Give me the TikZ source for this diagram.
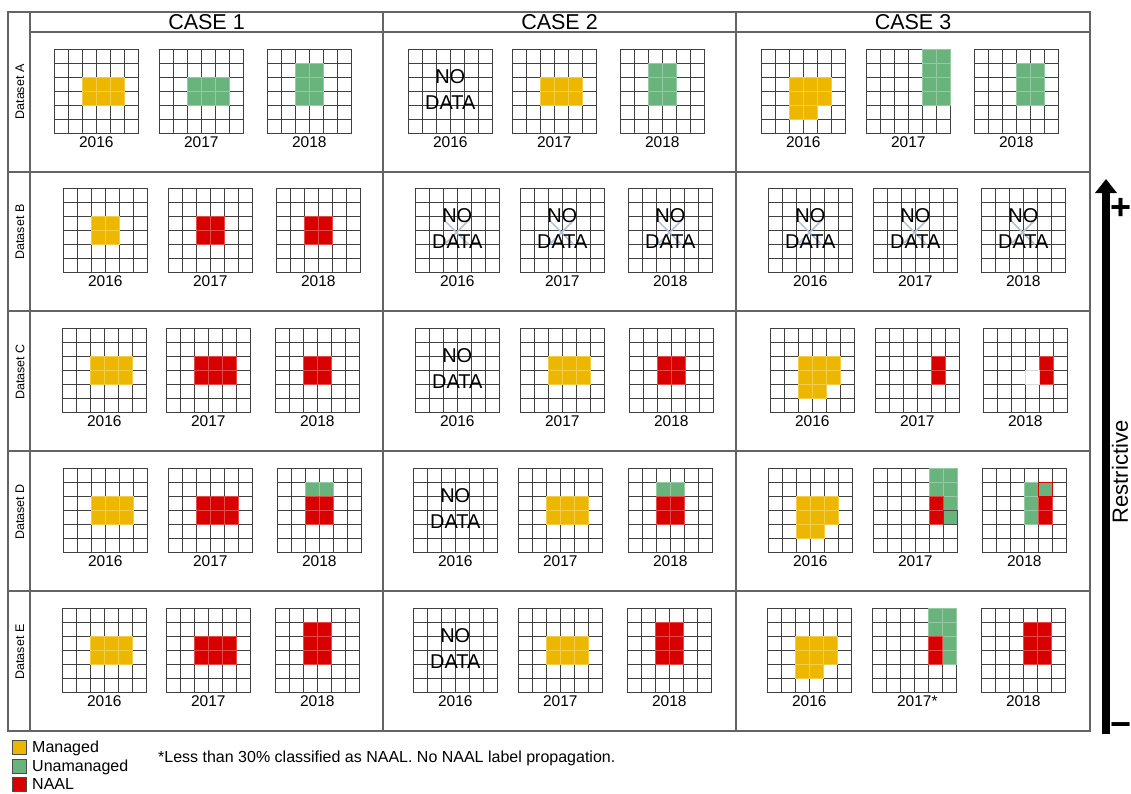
\documentclass[tikz,border=0pt]{standalone}
\usepackage{fontspec}
\setmainfont{Liberation Sans}
\usetikzlibrary{arrows.meta}
\definecolor{managed}{RGB}{237,183,0}
\definecolor{unmanaged}{RGB}{105,179,124}
\definecolor{naal}{RGB}{217,0,0}
\definecolor{framecol}{RGB}{100,100,100}
\definecolor{xblue}{RGB}{176,192,214}

\tikzset{
  gridline/.style={draw=black!75, line width=0.9pt},
  tableline/.style={draw=framecol, line width=1.2pt},
  yearlabel/.style={font=\fontsize{15.5}{18}\selectfont, anchor=base, inner sep=0pt},
  nodatatxt/.style={font=\fontsize{20}{26}\selectfont, align=center, inner sep=0pt},
  xline/.style={draw=xblue, line width=1.5pt},
  header/.style={font=\fontsize{21.5}{24}\selectfont, anchor=base, inner sep=0pt},
  dslabel/.style={font=\fontsize{12.5}{14}\selectfont, rotate=90, inner sep=0pt},
  legbox/.style={draw=black!70, line width=0.6pt},
  legtext/.style={font=\fontsize{16}{18}\selectfont, anchor=base west, inner sep=0pt},
  signtxt/.style={font=\fontsize{36}{36}\selectfont\bfseries, anchor=base, inner sep=0pt}
}

% name, gx, gy, label
\newcommand\gridsix[4]{%
  \foreach \ii in {0,...,6}{%
    \draw[gridline] ({#2+\ii*14.1},#3) -- ++(0,84.6);
    \draw[gridline] (#2,{#3+\ii*14.1}) -- ++(84.6,0);
  }
  \node[yearlabel] (#1) at ({#2+42.3},{#3+98}) {#4};
}
% gx, gy, colour, cells
\newcommand\fc[4]{%
  \foreach \ci/\ri in {#4}{%
    \path[fill=#3, draw=#3!70!white, line width=0.5pt] ({#1+\ci*14.1},{#2+\ri*14.1}) rectangle ++(14.1,14.1);
  }
}
% gx, gy
\newcommand\xmark[2]{%
  \draw[xline] ({#1+2.1*14.1},{#2+2.3*14.1}) -- ({#1+3.8*14.1},{#2+4*14.1});
  \draw[xline] ({#1+3.8*14.1},{#2+2.3*14.1}) -- ({#1+2.1*14.1},{#2+4*14.1});
}
% name, gx, gy
\newcommand\nodata[3]{%
  \node[nodatatxt] (#1) at ({#2+42.3},{#3+41}) {NO\\DATA};
}

\begin{document}
\begin{tikzpicture}[x=1pt, y=-1pt]
\useasboundingbox (0,0) rectangle (1131,793);

% ---------- table frame ----------
\draw[tableline] (8,12) rectangle (1090,731);
\draw[tableline] (30,12) -- (30,731);
\draw[tableline] (30,32) -- (1090,32);
\foreach \yy in {172,311,451,591}{\draw[tableline] (8,\yy) -- (1090,\yy);}
\foreach \xx in {383,736}{\draw[tableline] (\xx,12) -- (\xx,731);}

\node[header] (h1) at (206.5,29) {CASE 1};
\node[header] (h2) at (559.5,29) {CASE 2};
\node[header] (h3) at (913,29) {CASE 3};

\node[dslabel] (dA) at (20,92) {Dataset A};
\node[dslabel] (dB) at (20,232) {Dataset B};
\node[dslabel] (dC) at (20,372) {Dataset C};
\node[dslabel] (dD) at (20,512) {Dataset D};
\node[dslabel] (dE) at (20,652) {Dataset E};

% ---------- CASE 1 ----------
\gridsix{c1A1}{54}{49}{2016}  \fc{54}{49}{managed}{2/2,3/2,4/2,2/3,3/3,4/3}
\gridsix{c1A2}{159}{49}{2017} \fc{159}{49}{unmanaged}{2/2,3/2,4/2,2/3,3/3,4/3}
\gridsix{c1A3}{267}{49}{2018} \fc{267}{49}{unmanaged}{2/1,3/1,2/2,3/2,2/3,3/3}

\gridsix{c1B1}{63}{188}{2016}  \fc{63}{188}{managed}{2/2,3/2,2/3,3/3}
\gridsix{c1B2}{168}{188}{2017} \fc{168}{188}{naal}{2/2,3/2,2/3,3/3}
\gridsix{c1B3}{276}{188}{2018} \fc{276}{188}{naal}{2/2,3/2,2/3,3/3}

\gridsix{c1C1}{62}{328}{2016}  \fc{62}{328}{managed}{2/2,3/2,4/2,2/3,3/3,4/3}
\gridsix{c1C2}{166}{328}{2017} \fc{166}{328}{naal}{2/2,3/2,4/2,2/3,3/3,4/3}
\gridsix{c1C3}{275}{328}{2018} \fc{275}{328}{naal}{2/2,3/2,2/3,3/3}

\gridsix{c1D1}{63}{468}{2016}  \fc{63}{468}{managed}{2/2,3/2,4/2,2/3,3/3,4/3}
\gridsix{c1D2}{168}{468}{2017} \fc{168}{468}{naal}{2/2,3/2,4/2,2/3,3/3,4/3}
\gridsix{c1D3}{277}{468}{2018} \fc{277}{468}{unmanaged}{2/1,3/1} \fc{277}{468}{naal}{2/2,3/2,2/3,3/3}

\gridsix{c1E1}{62}{608}{2016}  \fc{62}{608}{managed}{2/2,3/2,4/2,2/3,3/3,4/3}
\gridsix{c1E2}{166}{608}{2017} \fc{166}{608}{naal}{2/2,3/2,4/2,2/3,3/3,4/3}
\gridsix{c1E3}{275}{608}{2018} \fc{275}{608}{naal}{2/1,3/1,2/2,3/2,2/3,3/3}

% ---------- CASE 2 ----------
\gridsix{c2A1}{408}{49}{2016}  \nodata{n2A1}{408}{49}
\gridsix{c2A2}{512}{49}{2017}  \fc{512}{49}{managed}{2/2,3/2,4/2,2/3,3/3,4/3}
\gridsix{c2A3}{620}{49}{2018}  \fc{620}{49}{unmanaged}{2/1,3/1,2/2,3/2,2/3,3/3}

\gridsix{c2B1}{415}{188}{2016} \xmark{415}{188} \nodata{n2B1}{415}{188}
\gridsix{c2B2}{520}{188}{2017} \xmark{520}{188} \nodata{n2B2}{520}{188}
\gridsix{c2B3}{628}{188}{2018} \xmark{628}{188} \nodata{n2B3}{628}{188}

\gridsix{c2C1}{415}{328}{2016} \nodata{n2C1}{415}{328}
\gridsix{c2C2}{520}{328}{2017} \fc{520}{328}{managed}{2/2,3/2,4/2,2/3,3/3,4/3}
\gridsix{c2C3}{629}{328}{2018} \fc{629}{328}{naal}{2/2,3/2,2/3,3/3}

\gridsix{c2D1}{413}{468}{2016} \nodata{n2D1}{413}{468}
\gridsix{c2D2}{518}{468}{2017} \fc{518}{468}{managed}{2/2,3/2,4/2,2/3,3/3,4/3}
\gridsix{c2D3}{628}{468}{2018} \fc{628}{468}{unmanaged}{2/1,3/1} \fc{628}{468}{naal}{2/2,3/2,2/3,3/3}

\gridsix{c2E1}{413}{608}{2016} \nodata{n2E1}{413}{608}
\gridsix{c2E2}{518}{608}{2017} \fc{518}{608}{managed}{2/2,3/2,4/2,2/3,3/3,4/3}
\gridsix{c2E3}{627}{608}{2018} \fc{627}{608}{naal}{2/1,3/1,2/2,3/2,2/3,3/3}

% ---------- CASE 3 ----------
\gridsix{c3A1}{761}{49}{2016}  \fc{761}{49}{managed}{2/2,3/2,4/2,2/3,3/3,4/3,2/4,3/4}
\gridsix{c3A2}{866}{49}{2017}  \fc{866}{49}{unmanaged}{4/0,5/0,4/1,5/1,4/2,5/2,4/3,5/3}
\gridsix{c3A3}{974}{49}{2018}  \fc{974}{49}{unmanaged}{3/1,4/1,3/2,4/2,3/3,4/3}

\gridsix{c3B1}{768}{188}{2016} \xmark{768}{188} \nodata{n3B1}{768}{188}
\gridsix{c3B2}{873}{188}{2017} \xmark{873}{188} \nodata{n3B2}{873}{188}
\gridsix{c3B3}{981}{188}{2018} \xmark{981}{188} \nodata{n3B3}{981}{188}

\gridsix{c3C1}{770}{328}{2016} \fc{770}{328}{managed}{2/2,3/2,4/2,2/3,3/3,4/3,2/4,3/4}
\gridsix{c3C2}{875}{328}{2017} \fc{875}{328}{naal}{4/2,4/3}
\gridsix{c3C3}{983}{328}{2018} \fc{983}{328}{naal}{4/2,4/3}
\path[fill=white, draw=black!15, line width=0.5pt] ({983+3*14.1},{328+3*14.1}) rectangle ++(14.1,14.1);

\gridsix{c3D1}{768}{468}{2016} \fc{768}{468}{managed}{2/2,3/2,4/2,2/3,3/3,4/3,2/4,3/4}
\gridsix{c3D2}{873}{468}{2017} \fc{873}{468}{unmanaged}{4/0,5/0,4/1,5/1,4/2,5/2,4/3,5/3} \fc{873}{468}{naal}{4/2,4/3}
\draw[black!70, line width=0.8pt] ({873+5*14.1},{468+3*14.1}) rectangle ++(14.1,14.1);
\gridsix{c3D3}{982}{468}{2018} \fc{982}{468}{unmanaged}{3/1,3/2,3/3,4/1} \fc{982}{468}{naal}{4/2,4/3}
\draw[naal, line width=0.8pt] ({982+4*14.1},{468+1*14.1}) rectangle ++(14.1,14.1);

\gridsix{c3E1}{767}{608}{2016} \fc{767}{608}{managed}{2/2,3/2,4/2,2/3,3/3,4/3,2/4,3/4}
\gridsix{c3E2}{872}{608}{2017\rlap{*}} \fc{872}{608}{unmanaged}{4/0,5/0,4/1,5/1,4/2,5/2,4/3,5/3} \fc{872}{608}{naal}{4/2,4/3}
\gridsix{c3E3}{981}{608}{2018} \fc{981}{608}{naal}{3/1,4/1,3/2,4/2,3/3,4/3}

% ---------- restrictive arrow ----------
\coordinate (abot) at (1106,734);
\coordinate (atop) at (1106,179);
\draw[line width=8pt, -{Triangle[width=21pt,length=14pt]}] (abot) -- (atop);
\node[signtxt] (plus) at (1120.5,219) {+};
\node[signtxt] (minus) at (1120.5,736) {−};
\node[font=\fontsize{22}{24}\selectfont, rotate=90, inner sep=0pt] (restr) at (1120,472) {Restrictive};

% ---------- legend ----------
\path[legbox, fill=managed] (12,740) rectangle (26,754);
\path[legbox, fill=unmanaged] (12,759) rectangle (26,773);
\path[legbox, fill=naal] (12,777) rectangle (26,791);
\node[legtext] (lm) at (32,752.5) {Managed};
\node[legtext] (lu) at (32,771.5) {Unamanaged};
\node[legtext] (ln) at (32,789.5) {NAAL};
\node[legtext] (foot) at (158,762.5) {*Less than 30\% classified as NAAL. No NAAL label propagation.};
\end{tikzpicture}
\end{document}
